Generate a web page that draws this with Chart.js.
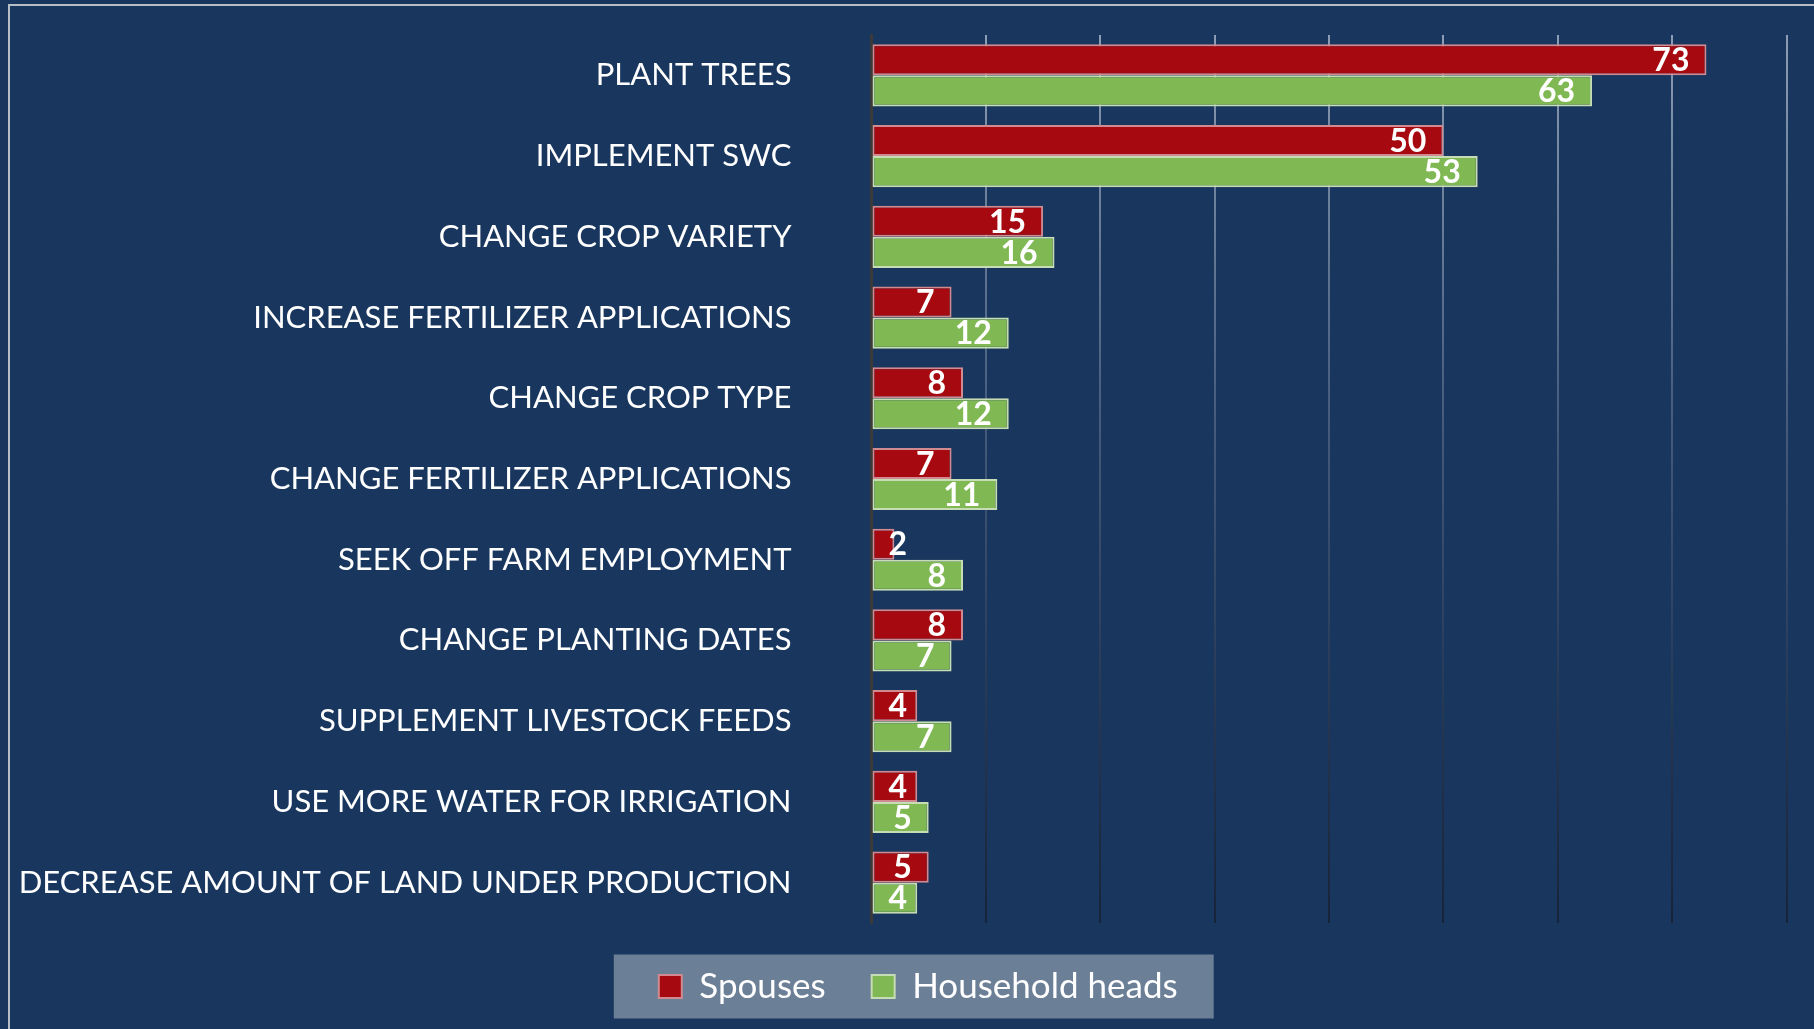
<!DOCTYPE html>
<html>
<head>
<meta charset="utf-8">
<script src="https://cdn.jsdelivr.net/npm/chart.js@4/dist/chart.umd.min.js"></script>
<style>
  html, body { margin: 0; padding: 0; background: #19375e; overflow: hidden; }
  #wrap { position: relative; width: 1814px; height: 1029px; }
  #frame { position: absolute; left: 8px; top: 4px; right: -10px; bottom: -10px;
           border-top: 2px solid #b8bec8; border-left: 2px solid #b8bec8; pointer-events: none; }
  canvas { position: absolute; left: 0; top: 0; }
</style>
</head>
<body>
<div id="wrap">
  <div id="frame"></div>
  <canvas id="c" width="1814" height="1029"></canvas>
</div>
<script>
const categories = [
  'PLANT TREES',
  'IMPLEMENT SWC',
  'CHANGE CROP VARIETY',
  'INCREASE FERTILIZER APPLICATIONS',
  'CHANGE CROP TYPE',
  'CHANGE FERTILIZER APPLICATIONS',
  'SEEK OFF FARM EMPLOYMENT',
  'CHANGE PLANTING DATES',
  'SUPPLEMENT LIVESTOCK FEEDS',
  'USE MORE WATER FOR IRRIGATION',
  'DECREASE AMOUNT OF LAND UNDER PRODUCTION'
];
const seriesNames = ['Spouses', 'Household heads'];
const spouses = [73, 50, 15, 7, 8, 7, 2, 8, 4, 4, 5];
const householdHeads = [63, 53, 16, 12, 12, 11, 8, 7, 7, 5, 4];
const axisMin = 0;
const axisMax = 80;
const axisStep = 10;

const FONT = 'Lato, "Open Sans", sans-serif';
const PAD_LEFT = 0;
const AXIS_X = 871.5;

const barLabels = {
  id: 'barLabels',
  afterDatasetsDraw(chart) {
    const ctx = chart.ctx;
    ctx.save();
    ctx.font = 'bold 32px ' + FONT;
    ctx.fillStyle = '#ffffff';
    ctx.textAlign = 'left';
    ctx.textBaseline = 'middle';
    chart.data.datasets.forEach((ds, di) => {
      const meta = chart.getDatasetMeta(di);
      meta.data.forEach((bar, i) => {
        const txt = String(ds.data[i]);
        const w = ctx.measureText(txt).width;
        let left = bar.x - 17 - w;
        if (left < bar.base + 16) left = bar.base + 16;
        ctx.fillText(txt, left, bar.y + 1);
      });
    });
    ctx.restore();
  }
};

const legendShift = {
  id: 'legendShift',
  afterLayout(chart) {
    const lg = chart.legend;
    if (!lg) return;
    lg.left += 25;
    lg.right += 25;
  }
};

const legendBg = {
  id: 'legendBg',
  beforeDraw(chart) {
    const lg = chart.legend;
    if (!lg || !lg.legendHitBoxes || !lg.legendHitBoxes.length) return;
    const hb = lg.legendHitBoxes;
    const first = hb[0], last = hb[hb.length - 1];
    const cy = first.top + first.height / 2;
    const ctx = chart.ctx;
    ctx.save();
    ctx.fillStyle = '#6b7f96';
    ctx.fillRect(first.left - 45, cy - 32, (last.left + last.width + 36) - (first.left - 45), 64);
    ctx.restore();
  }
};

function gridColor(context) {
  const chart = context.chart;
  const area = chart.chartArea;
  if (context.index === 0) return 'rgba(0,0,0,0)';
  if (!area) return '#4a5f7c';
  const g = chart.ctx.createLinearGradient(0, area.top, 0, area.bottom);
  g.addColorStop(0, '#8d9db3');
  g.addColorStop(0.4, '#4a6080');
  g.addColorStop(0.7, '#2b3d5a');
  g.addColorStop(1, '#172338');
  return g;
}

new Chart(document.getElementById('c'), {
  type: 'bar',
  data: {
    labels: categories,
    datasets: [
      {
        label: seriesNames[0],
        data: spouses,
        backgroundColor: '#a60a10',
        borderColor: '#d08a90',
        borderWidth: 2,
        borderSkipped: false,
        categoryPercentage: 0.77,
        barPercentage: 1.0
      },
      {
        label: seriesNames[1],
        data: householdHeads,
        backgroundColor: '#80b954',
        borderColor: '#c6dcb4',
        borderWidth: 2,
        borderSkipped: false,
        categoryPercentage: 0.77,
        barPercentage: 1.0
      }
    ]
  },
  options: {
    indexAxis: 'y',
    responsive: false,
    animation: false,
    devicePixelRatio: 1,
    layout: { padding: { left: PAD_LEFT, right: 27.5, top: 35, bottom: 15 } },
    scales: {
      x: {
        min: axisMin,
        max: axisMax,
        ticks: { display: false, stepSize: axisStep },
        grid: { color: gridColor, lineWidth: 2, drawTicks: false },
        border: { display: false }
      },
      y: {
        afterFit(scale) {
          scale.width = AXIS_X - PAD_LEFT;
          scale.paddingTop = 0;
          scale.paddingBottom = 0;
        },
        ticks: { color: '#ffffff', font: { family: FONT, size: 31 }, padding: 80 },
        grid: { display: false, drawTicks: false },
        border: { display: true, color: '#3a3a3a', width: 3 }
      }
    },
    plugins: {
      legend: {
        position: 'bottom',
        labels: {
          color: '#ffffff',
          font: { family: FONT, size: 35 },
          boxWidth: 23,
          boxHeight: 23,
          padding: 46
        }
      },
      tooltip: { enabled: false }
    }
  },
  plugins: [legendShift, barLabels, legendBg]
});
</script>
</body>
</html>
